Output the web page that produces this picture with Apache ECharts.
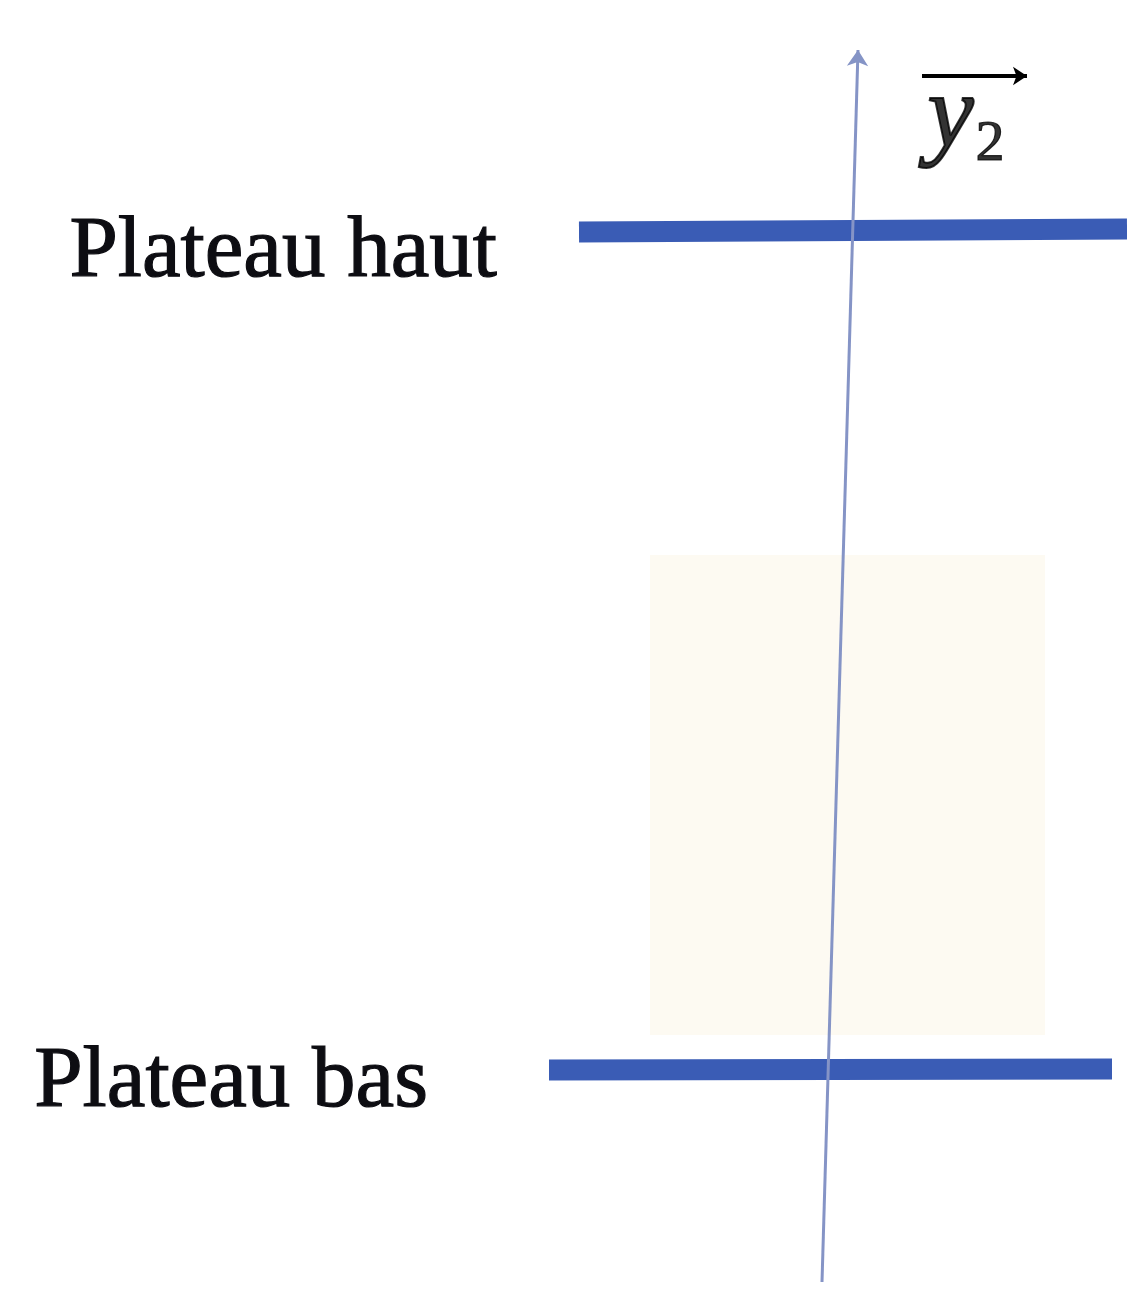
<!DOCTYPE html>
<html><head><meta charset="utf-8">
<style>html,body{margin:0;padding:0;background:#fff;}#c{width:1127px;height:1311px;}</style>
<script src="https://cdn.jsdelivr.net/npm/echarts@6/dist/echarts.min.js"></script>
</head><body><div id="c"></div>
<script>
// Diagram geometry in page-like units (x: 0..1127, y: 0..1311 downward)
const plateLabels = ['Plateau haut', 'Plateau bas'];
const plateY = [232, 1070];
const plateYRight = [229, 1069];
const plateXStart = [579, 549];
const plateXEnd = [1127, 1112];
const labelRightX = [497, 428];
const labelMidY = [253, 1083];
const axisStart = [822, 1282];
const axisEnd = [858, 50];
const axisName = 'y';
const axisSub = '2';
const vecArrowStart = [922, 76];
const vecArrowEnd = [1027, 76];
const axisNamePos = [966, 119];

const chart = echarts.init(document.getElementById('c'));
const plateColor = '#3a5cb5';
const serif = '"Liberation Serif","DejaVu Serif",serif';

const series = [];
// faint background panel
series.push({
  type: 'custom', silent: true, z: 0,
  renderItem: function (params, api) {
    const p1 = api.coord([650, 555]);
    const p2 = api.coord([1045, 1035]);
    return {type: 'rect', shape: {x: p1[0], y: p1[1], width: p2[0] - p1[0], height: p2[1] - p1[1]},
            style: {fill: '#fdfaf2'}};
  },
  data: [[0, 0]]
});
// plates
plateLabels.forEach(function (name, i) {
  series.push({
    type: 'line', name: name, z: 3, symbol: 'none', silent: true,
    lineStyle: {color: plateColor, width: 21, cap: 'butt'},
    data: [[plateXStart[i], plateY[i]], [plateXEnd[i], plateYRight[i]]]
  });
});
// plate labels
series.push({
  type: 'scatter', symbolSize: 0, z: 5, silent: true,
  itemStyle: {opacity: 1},
  data: plateLabels.map(function (n, i) { return {value: [labelRightX[i], labelMidY[i]], name: n}; }),
  label: {show: true, position: [0, 0], align: 'right', verticalAlign: 'middle', opacity: 1,
          formatter: function (p) { return p.name; },
          fontFamily: serif, fontSize: 87, color: '#0d0d12',
          textBorderColor: '#0d0d12', textBorderWidth: 1.2}
});
// axis and vector arrow
series.push({
  type: 'lines', coordinateSystem: 'cartesian2d', z: 4, silent: true,
  symbol: ['none', 'arrow'], symbolSize: [11, 16],
  lineStyle: {color: '#8594c6', width: 3, opacity: 1},
  data: [{coords: [axisStart, axisEnd]}]
});
series.push({
  type: 'lines', coordinateSystem: 'cartesian2d', z: 4, silent: true,
  symbol: ['none', 'arrow'], symbolSize: [14, 14],
  lineStyle: {color: '#000', width: 4, opacity: 1},
  data: [{coords: [vecArrowStart, vecArrowEnd]}]
});
// axis name
series.push({
  type: 'scatter', symbolSize: 0, z: 5, silent: true,
  data: [{value: axisNamePos, name: axisName}],
  label: {show: true, position: [0, 0], align: 'center', verticalAlign: 'middle', color: '#000',
          formatter: '{y|' + axisName + '}{s|' + axisSub + '}',
          rich: {
            y: {fontFamily: serif, fontStyle: 'italic', fontSize: 104, color: '#000',
                textBorderColor: '#000', textBorderWidth: 2},
            s: {fontFamily: serif, fontSize: 58, color: '#000', padding: [52, 0, 0, 2],
                textBorderColor: '#000', textBorderWidth: 1.2}
          }}
});

chart.setOption({
  animation: false,
  backgroundColor: '#ffffff',
  grid: {left: 0, right: 0, top: 0, bottom: 0},
  xAxis: {type: 'value', min: 0, max: 1127, show: false},
  yAxis: {type: 'value', min: 0, max: 1311, inverse: true, show: false},
  series: series
});
</script></body></html>
